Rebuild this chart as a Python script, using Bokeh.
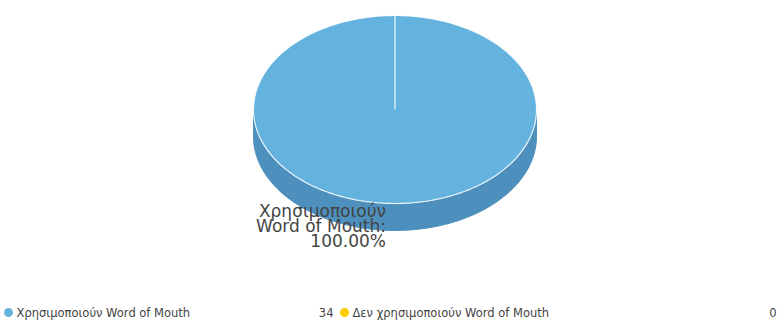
import numpy as np
from bokeh.plotting import figure
from bokeh.models import Range1d, ColumnDataSource
from bokeh.embed import file_html
from bokeh.resources import INLINE
from bokeh.core.properties import value

categories = ["Χρησιμοποιούν Word of Mouth", "Δεν χρησιμοποιούν Word of Mouth"]
counts = [34, 0]
top_colors = ["#64b3de", "#ffcc00"]
side_colors = ["#4d90bd", "#d6aa00"]

W, H = 778, 325
p = figure(width=W, height=H, x_range=Range1d(0, W), y_range=Range1d(H, 0),
           output_backend="svg", toolbar_location=None, min_border=0)
p.axis.visible = False
p.grid.visible = False
p.outline_line_color = None
p.background_fill_color = "white"
p.border_fill_color = "white"

# 3D pie geometry (styles)
cx, cy, rx, ry, depth = 394.5, 109.0, 141.5, 94.0, 27.0

def pt(theta):
    return cx + rx * np.sin(theta), cy - ry * np.cos(theta)

total = float(sum(counts))
fracs = [c / total for c in counts]
starts = np.concatenate([[0.0], np.cumsum(fracs)[:-1]]) * 2 * np.pi
ends = np.cumsum(fracs) * 2 * np.pi

side_xs, side_ys, side_c = [], [], []
top_xs, top_ys, top_c = [], [], []
for i, (a0, a1) in enumerate(zip(starts, ends)):
    if a1 - a0 <= 0:
        continue
    s0, s1 = max(a0, np.pi / 2), min(a1, 3 * np.pi / 2)
    if s1 > s0:
        th = np.linspace(s0, s1, 120)
        x, y = pt(th)
        side_xs.append(list(x) + list(x[::-1]))
        side_ys.append(list(y) + list((y + depth)[::-1]))
        side_c.append(side_colors[i])
    th = np.linspace(a0, a1, 360)
    x, y = pt(th)
    top_xs.append([cx] + list(x))
    top_ys.append([cy] + list(y))
    top_c.append(top_colors[i])

p.patches(side_xs, side_ys, fill_color=side_c, line_color=side_c, line_width=1)
p.patches(top_xs, top_ys, fill_color=top_c, line_color="white", line_width=1.2, line_alpha=0.9)

# slice label
font = value("DejaVu Sans")
for i, (a0, a1) in enumerate(zip(starts, ends)):
    if counts[i] == 0:
        continue
    mid = (a0 + a1) / 2
    lx, ly = pt(mid)
    first, rest = categories[i].split(" ", 1)
    lines = [first, rest + ":", f"{fracs[i]*100:.2f}%"]
    src = ColumnDataSource(dict(x=[lx - 9] * 3, y=[ly + 7 + 15 * k for k in range(3)], t=lines))
    p.text("x", "y", text="t", source=src, text_align="right", text_baseline="middle",
           text_font=font, text_font_size="17px", text_color="#444444")

# legend
leg_x = [8, 344]
num_x = [333, 776]
leg_y = 312
for i in range(len(categories)):
    p.scatter([leg_x[i]], [leg_y], size=9, marker="circle", fill_color=top_colors[i], line_color=None)
    p.text([leg_x[i] + 8], [leg_y], text=[categories[i]], text_align="left", text_baseline="middle",
           text_font=font, text_font_size="11.5px", text_color="#444444")
    p.text([num_x[i]], [leg_y], text=[str(counts[i])], text_align="right", text_baseline="middle",
           text_font=font, text_font_size="11.5px", text_color="#444444")

open("out.html", "w").write(file_html(p, INLINE))
